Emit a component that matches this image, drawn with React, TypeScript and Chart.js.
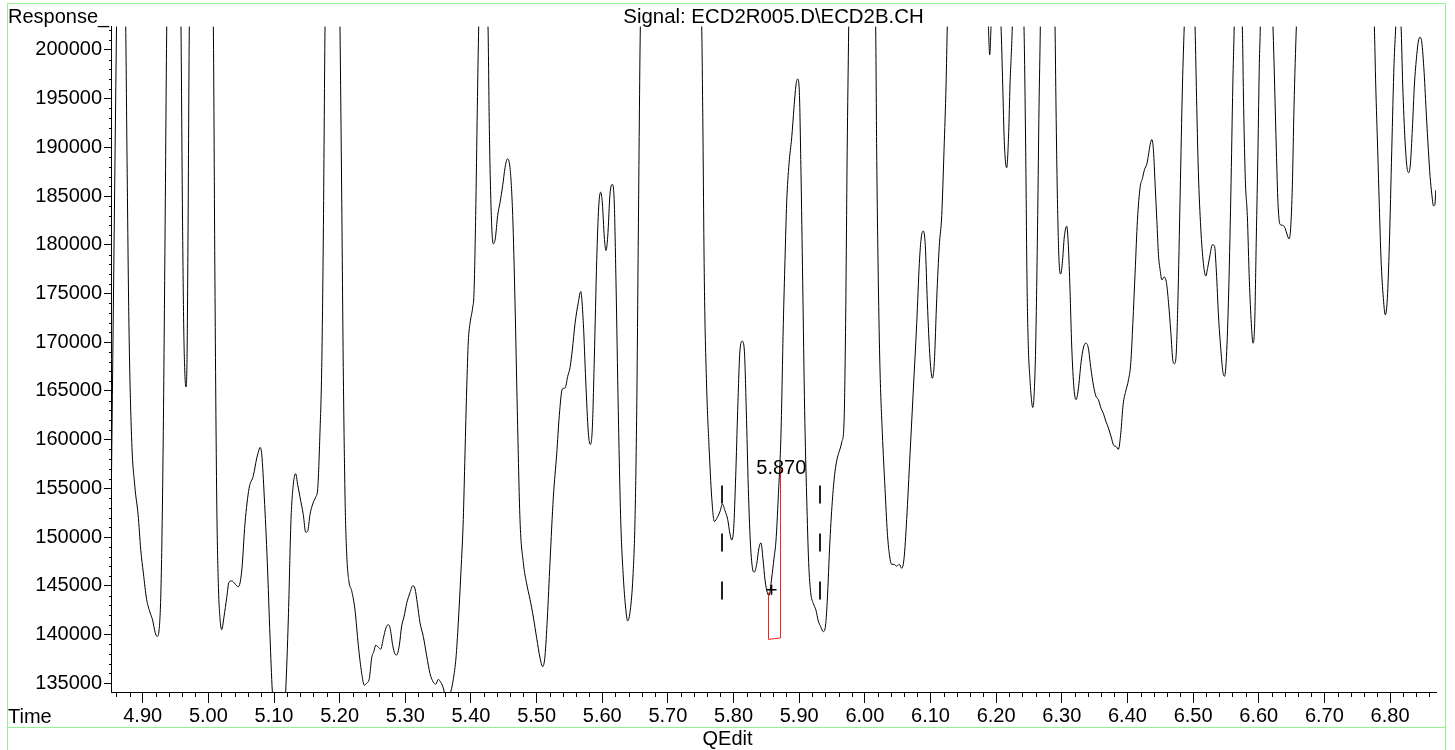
import React, { useEffect, useRef } from 'react';
import { Chart, registerables } from 'chart.js';

Chart.register(...registerables);

// ---- data (retention time in minutes, detector response) ----
const times = [
  4.8517, 4.8601, 4.865, 4.8741, 4.876, 4.879, 4.883, 4.888, 4.893, 4.897, 4.901, 4.906, 4.911, 4.915, 4.919, 4.922, 4.925, 4.928, 4.931, 4.934, 4.9366,
  4.945, 4.9583, 4.9603, 4.9624, 4.9644, 4.966, 4.9675, 4.969, 4.971, 4.99, 5.0076, 5.01, 5.0127, 5.0152, 5.0178, 5.0203, 5.0238, 5.028, 5.0315, 5.0356,
  5.0406, 5.0456, 5.0508, 5.0558, 5.062, 5.0685, 5.0737, 5.0761, 5.0787, 5.0813, 5.0852, 5.0898, 5.0939, 5.0974, 5.1076, 5.1178, 5.1218, 5.1259, 5.1294,
  5.133, 5.136, 5.1396, 5.1446, 5.1483, 5.1513, 5.1548, 5.159, 5.1635, 5.1666, 5.17, 5.1727, 5.1751, 5.1777, 5.189, 5.2005, 5.2031, 5.2055, 5.2082, 5.2107,
  5.2142, 5.2183, 5.2234, 5.2284, 5.2336, 5.2376, 5.2412, 5.2452, 5.2488, 5.2523, 5.2549, 5.2589, 5.2625, 5.2665, 5.2706, 5.2741, 5.2767, 5.2808, 5.2843,
  5.2869, 5.2909, 5.2945, 5.298, 5.3021, 5.3072, 5.3113, 5.3148, 5.3183, 5.3224, 5.3274, 5.3326, 5.3376, 5.3427, 5.3463, 5.3503, 5.3539, 5.357, 5.3594,
  5.3645, 5.3696, 5.3731, 5.3772, 5.3807, 5.3848, 5.3883, 5.3909, 5.3935, 5.396, 5.3985, 5.4027, 5.4046, 5.4072, 5.4097, 5.4118, 5.4165, 5.426, 5.428,
  5.431, 5.434, 5.437, 5.4407, 5.4442, 5.4484, 5.4519, 5.4554, 5.4595, 5.4636, 5.4671, 5.4706, 5.4747, 5.4797, 5.4849, 5.49, 5.495, 5.5002, 5.5052, 5.5093,
  5.5128, 5.5163, 5.5204, 5.5255, 5.5306, 5.5346, 5.5392, 5.5433, 5.5474, 5.5509, 5.5544, 5.5585, 5.5636, 5.5672, 5.5712, 5.5748, 5.5788, 5.5818, 5.5849,
  5.5879, 5.5916, 5.5946, 5.5976, 5.6001, 5.6031, 5.6057, 5.6083, 5.6118, 5.6153, 5.6183, 5.6209, 5.6244, 5.6281, 5.632, 5.6357, 5.6387, 5.6427, 5.6468,
  5.6499, 5.6525, 5.6549, 5.658, 5.7, 5.7515, 5.753, 5.7555, 5.7591, 5.7626, 5.7667, 5.7707, 5.7758, 5.7798, 5.7829, 5.787, 5.7911, 5.7946, 5.7972, 5.8002,
  5.8033, 5.8063, 5.8098, 5.8133, 5.8164, 5.8194, 5.8225, 5.8255, 5.8286, 5.8316, 5.8352, 5.8387, 5.8418, 5.8448, 5.8479, 5.8514, 5.854, 5.8581, 5.8616,
  5.8646, 5.8681, 5.8723, 5.8758, 5.8784, 5.8809, 5.8845, 5.8886, 5.8921, 5.8951, 5.8977, 5.9001, 5.9027, 5.9053, 5.9083, 5.9114, 5.9144, 5.9175, 5.9214,
  5.9255, 5.929, 5.9327, 5.9366, 5.9397, 5.9427, 5.9468, 5.9509, 5.9545, 5.958, 5.962, 5.9651, 5.9682, 5.9707, 5.9731, 5.9754, 5.988, 6.0165, 6.018, 6.0205,
  6.023, 6.0266, 6.0307, 6.0342, 6.0372, 6.0409, 6.0445, 6.0485, 6.0525, 6.0561, 6.0597, 6.0637, 6.0688, 6.0739, 6.079, 6.083, 6.086, 6.0891, 6.0921,
  6.0952, 6.0993, 6.1028, 6.1058, 6.1095, 6.1134, 6.1171, 6.1206, 6.1237, 6.1256, 6.155, 6.1882, 6.1902, 6.1922, 6.196, 6.2074, 6.21, 6.2124, 6.216, 6.2191,
  6.2211, 6.2246, 6.23, 6.2424, 6.245, 6.247, 6.249, 6.2516, 6.2541, 6.2557, 6.2576, 6.2602, 6.2633, 6.2653, 6.2673, 6.275, 6.2897, 6.2912, 6.2932, 6.2957,
  6.2983, 6.3008, 6.3038, 6.3075, 6.31, 6.3125, 6.3151, 6.3186, 6.3217, 6.3252, 6.3293, 6.3328, 6.3365, 6.3404, 6.3441, 6.3481, 6.3517, 6.3557, 6.3598,
  6.3633, 6.367, 6.371, 6.3751, 6.3792, 6.3827, 6.3862, 6.3899, 6.3934, 6.3975, 6.4015, 6.4051, 6.4082, 6.4117, 6.4152, 6.4193, 6.4228, 6.4259, 6.4296,
  6.432, 6.4346, 6.4372, 6.4396, 6.4422, 6.4448, 6.4472, 6.4498, 6.4524, 6.4559, 6.4594, 6.4625, 6.4661, 6.4692, 6.4716, 6.4742, 6.4768, 6.4803, 6.4838,
  6.4865, 6.495, 6.503, 6.5056, 6.508, 6.5117, 6.5157, 6.5193, 6.5224, 6.5259, 6.5294, 6.5325, 6.5355, 6.5386, 6.5423, 6.5453, 6.5477, 6.5503, 6.5538,
  6.5575, 6.5605, 6.5626, 6.566, 6.575, 6.577, 6.5796, 6.5826, 6.5857, 6.5887, 6.5912, 6.5938, 6.5963, 6.5988, 6.6009, 6.6024, 6.608, 6.6217, 6.6242,
  6.6268, 6.6293, 6.6323, 6.6364, 6.6395, 6.6425, 6.6461, 6.6486, 6.6512, 6.6537, 6.6573, 6.72, 6.7761, 6.7782, 6.7812, 6.7837, 6.7863, 6.7898, 6.7928,
  6.7959, 6.7989, 6.8026, 6.8061, 6.8087, 6.811, 6.8168, 6.8193, 6.8229, 6.8259, 6.8285, 6.831, 6.834, 6.8371, 6.8407, 6.8432, 6.8458, 6.8483, 6.8519,
  6.8554, 6.8584, 6.861, 6.8636, 6.8661, 6.8682, 6.8697,
];

const responses = [
  151800, 202400, 230000, 202400, 189700, 171900, 160300, 155200, 152300, 148700, 146300, 143600, 142300, 141500, 140200, 139800, 140500, 145200, 158500, 180800, 202400,
  240000, 202400, 185200, 171900, 166500, 165400, 168300, 180800, 202400, 250000, 202400, 176300, 154100, 145200, 141600, 140500, 141800, 143800, 145400, 145500,
  145200, 144900, 146500, 151400, 155000, 156300, 158100, 158700, 159200, 158500, 154100, 147400, 139800, 134200, 125000, 134200, 141600, 151800, 155400,
  156500, 155400, 154100, 152300, 150500, 150600, 152300, 153400, 154100, 155000, 160700, 167400, 180800, 202400, 260000, 202400, 185200, 167400, 154100, 148300,
  145400, 144500, 142500, 138900, 136000, 134800, 135000, 135500, 137600, 138300, 138900, 138700, 138500, 139600, 140700, 141000, 140700, 138900, 138000,
  137900, 138900, 140900, 141800, 143200, 144300, 145000, 144700, 143200, 141200, 139800, 137800, 136000, 135100, 134900, 135400, 135100, 134700, 134100,
  133300, 134200, 135400, 137600, 141200, 146500, 151800, 158500, 165200, 170100, 171900, 173600, 175000, 183000, 194100, 202400, 215000, 202400, 191900,
  183000, 180100, 180600, 183000, 184300, 186100, 187900, 188800, 187900, 183000, 174100, 163000, 151800, 147400, 145200, 143600, 141800, 139600, 137600, 136700,
  137800, 141600, 147400, 154100, 158500, 162500, 165200, 165300, 166500, 167400, 169200, 171900, 174100, 175200, 171900, 166100, 160700, 159500, 161200,
  168300, 178500, 183900, 185400, 184300, 180800, 179400, 180800, 185200, 186200, 184300, 176300, 163000, 151800, 146000, 142700, 141400, 142500, 146000,
  151800, 163000, 180800, 202400, 300000, 202400, 194100, 176300, 165200, 159400, 154100, 151600, 152100, 152700, 153400, 152700, 151800, 150300, 149700, 150900,
  156300, 163000, 169200, 170100, 169200, 163000, 155000, 149600, 146900, 146400, 147200, 148900, 149400, 147800, 145600, 144300, 144000, 145800, 147800,
  149600, 154100, 160700, 171900, 178500, 184300, 188300, 191000, 194100, 196400, 197000, 195900, 187500, 176300, 163000, 154100, 147400, 144300, 143200,
  142500, 141400, 140800, 140300, 140700, 143400, 149600, 154100, 156700, 158100, 159000, 159800, 161600, 171900, 189700, 202400, 280000, 202400, 189700, 176300,
  167400, 160700, 155000, 150500, 148300, 147200, 147200, 147000, 147200, 146800, 147800, 151800, 158500, 165200, 171900, 178100, 180800, 181400, 179900,
  174100, 168300, 166300, 167900, 174500, 179900, 183000, 189700, 196400, 202400, 260000, 202400, 199500, 202400, 210000, 202400, 196400, 190600, 187900, 191500,
  196400, 202400, 220000, 202400, 189700, 176300, 169600, 166100, 163900, 163300, 164300, 169600, 183000, 194100, 202400, 250000, 202400, 194100, 185200, 178500,
  177000, 178100, 180800, 181900, 179900, 175400, 169600, 165200, 164100, 165200, 167900, 169400, 169900, 169400, 167400, 165600, 164500, 164100, 163200,
  162700, 161900, 161200, 160300, 159400, 159300, 159000, 160700, 163600, 165000, 166100, 167900, 171900, 177200, 182500, 185900, 186800, 187700, 188300,
  189200, 190300, 190800, 189700, 186100, 182500, 179000, 177400, 176400, 176700, 176100, 174100, 171000, 168100, 167800, 168700, 174100, 185200, 196400,
  202400, 220000, 202400, 194100, 187500, 181700, 178100, 176800, 177700, 179000, 180000, 179900, 177200, 172800, 169200, 167000, 166500, 167900, 174100,
  185200, 196400, 202400, 215000, 202400, 194100, 186600, 183000, 176300, 171900, 169900, 171900, 180800, 189700, 198600, 202400, 230000, 202400, 196400,
  189700, 184300, 182100, 182000, 181800, 181200, 180600, 181700, 186100, 194100, 202400, 300000, 202400, 196400, 189700, 183900, 178500, 174500, 172800,
  174500, 179900, 189700, 198600, 202400, 206000, 202400, 196400, 190600, 187900, 187400, 188300, 191900, 196400, 199500, 200900, 201300, 200800, 197700,
  193200, 189700, 187000, 185200, 184000, 184100, 185600,
];

// ---- axes ----
const xRange = [4.8517, 6.87];
const yRange = [134100, 202400];
const xTickValues = [4.9, 5.0, 5.1, 5.2, 5.3, 5.4, 5.5, 5.6, 5.7, 5.8, 5.9, 6.0, 6.1, 6.2, 6.3, 6.4, 6.5, 6.6, 6.7, 6.8];
const yTickValues = [135000, 140000, 145000, 150000, 155000, 160000, 165000, 170000, 175000, 180000, 185000, 190000, 195000, 200000];
const minorSteps = [0.02, 1000]; // x minor, y minor

// ---- integration annotations ----
const dashTimes = [5.7824, 5.932];
const dashValues = [155300, 143600];
const boxTimes = [5.8529, 5.8529, 5.8708, 5.8708];
const boxValues = [144300, 139500, 139650, 157100];
const crossPoint = [5.8578, 144590];
const peakLabelText = '5.870';
const peakLabelPoint = [5.8728, 156450];

// ---- texts ----
const titleText = 'Signal: ECD2R005.D\\ECD2B.CH';
const yTitle = 'Response_';
const xTitle = 'Time';
const footerText = 'QEdit';

const FONT = '"Liberation Sans", Arial, sans-serif';
const W = 1455;
const H = 750;

const overlayPlugin = {
  id: 'overlay',
  afterDraw(chart: any) {
    const ctx = chart.ctx;
    const xs = chart.scales.x;
    const ys = chart.scales.y;
    const area = chart.chartArea;
    ctx.save();

    // minor ticks on x
    ctx.strokeStyle = '#000';
    ctx.lineWidth = 1;
    ctx.beginPath();
    const xk0 = Math.ceil(xRange[0] / minorSteps[0] - 1e-6);
    const xk1 = Math.floor(xRange[1] / minorSteps[0] + 1e-6);
    for (let k = xk0; k <= xk1; k++) {
      if (k % 5 === 0) continue;
      const px = Math.round(xs.getPixelForValue(k * minorSteps[0])) + 0.5;
      ctx.moveTo(px, area.bottom);
      ctx.lineTo(px, area.bottom + 5);
    }
    // minor ticks on y
    const yk0 = Math.ceil(yRange[0] / minorSteps[1]);
    const yk1 = Math.floor(yRange[1] / minorSteps[1]);
    for (let k = yk0; k <= yk1; k++) {
      if (k % 5 === 0) continue;
      const py = Math.round(ys.getPixelForValue(k * minorSteps[1])) + 0.5;
      ctx.moveTo(area.left - 2, py);
      ctx.lineTo(area.left, py);
    }
    ctx.stroke();

    // dashed integration limits
    ctx.save();
    ctx.lineWidth = 2;
    ctx.setLineDash([18, 30]);
    ctx.strokeStyle = '#222';
    dashTimes.forEach((t) => {
      const px = Math.round(xs.getPixelForValue(t));
      ctx.beginPath();
      ctx.moveTo(px, ys.getPixelForValue(dashValues[0]));
      ctx.lineTo(px, ys.getPixelForValue(dashValues[1]));
      ctx.stroke();
    });
    ctx.restore();

    // red baseline box
    ctx.strokeStyle = 'rgb(255,30,30)';
    ctx.lineWidth = 1;
    ctx.beginPath();
    boxTimes.forEach((t, i) => {
      const px = Math.round(xs.getPixelForValue(t)) + 0.5;
      const py = ys.getPixelForValue(boxValues[i]);
      if (i === 0) ctx.moveTo(px, py);
      else ctx.lineTo(px, py);
    });
    ctx.stroke();

    // cross
    const cx = xs.getPixelForValue(crossPoint[0]);
    const cy = ys.getPixelForValue(crossPoint[1]);
    ctx.strokeStyle = '#000';
    ctx.lineWidth = 1.6;
    ctx.beginPath();
    ctx.moveTo(cx - 5, cy);
    ctx.lineTo(cx + 5, cy);
    ctx.moveTo(cx, cy - 5);
    ctx.lineTo(cx, cy + 5);
    ctx.stroke();

    // peak label
    ctx.fillStyle = '#000';
    ctx.font = `20px ${FONT}`;
    ctx.textAlign = 'center';
    ctx.textBaseline = 'alphabetic';
    ctx.fillText(peakLabelText, xs.getPixelForValue(peakLabelPoint[0]), ys.getPixelForValue(peakLabelPoint[1]));

    // texts
    ctx.textAlign = 'left';
    ctx.fillText(yTitle, 8, 22.5);
    ctx.fillText(xTitle, 8, 723);
    ctx.textAlign = 'center';
    ctx.font = `20.4px ${FONT}`;
    ctx.fillText(titleText, (area.left + area.right) / 2, 22.5);
    ctx.font = `20px ${FONT}`;
    ctx.fillText(footerText, W / 2, 745);

    // green frame
    ctx.strokeStyle = 'rgb(150,240,150)';
    ctx.lineWidth = 1;
    ctx.beginPath();
    ctx.moveTo(7.5, H);
    ctx.lineTo(7.5, 3.5);
    ctx.lineTo(1445.5, 3.5);
    ctx.lineTo(1445.5, H);
    ctx.moveTo(7.5, 727.5);
    ctx.lineTo(1445.5, 727.5);
    ctx.stroke();

    ctx.restore();
  },
};

export default function App() {
  const canvasRef = useRef<HTMLCanvasElement | null>(null);

  useEffect(() => {
    if (!canvasRef.current) return;
    Chart.defaults.font.family = FONT;
    const points = times.map((t, i) => ({ x: t, y: responses[i] }));
    const chart = new Chart(canvasRef.current, {
      type: 'line',
      data: {
        datasets: [
          {
            data: points,
            borderColor: '#000',
            borderWidth: 1,
            pointRadius: 0,
            fill: false,
            cubicInterpolationMode: 'monotone',
          },
        ],
      },
      options: {
        responsive: false,
        animation: false,
        events: [],
        layout: { padding: { top: 26.5, right: 19, bottom: 0, left: 0 } },
        plugins: { legend: { display: false }, tooltip: { enabled: false }, title: { display: false } },
        scales: {
          x: {
            type: 'linear',
            min: xRange[0],
            max: xRange[1],
            afterBuildTicks: (s: any) => {
              s.ticks = xTickValues.map((v) => ({ value: v }));
            },
            afterFit: (s: any) => {
              s.height = 58;
            },
            border: { display: true, color: '#000', width: 1 },
            grid: { display: true, drawOnChartArea: false, drawTicks: true, tickLength: 11, color: '#000', lineWidth: 1 },
            ticks: {
              autoSkip: false,
              maxRotation: 0,
              minRotation: 0,
              padding: 1,
              color: '#000',
              font: { size: 20, family: FONT },
              callback: (v: any) => Number(v).toFixed(2),
            },
          },
          y: {
            type: 'linear',
            min: yRange[0],
            max: yRange[1],
            afterBuildTicks: (s: any) => {
              s.ticks = yTickValues.map((v) => ({ value: v }));
            },
            afterFit: (s: any) => {
              s.width = 111;
            },
            border: { display: true, color: '#000', width: 1 },
            grid: { display: true, drawOnChartArea: false, drawTicks: true, tickLength: 7, color: '#000', lineWidth: 1 },
            ticks: {
              autoSkip: false,
              padding: 2,
              color: '#000',
              font: { size: 20, family: FONT },
              callback: (v: any) => String(Math.round(Number(v))),
            },
          },
        },
      },
      plugins: [overlayPlugin],
    } as any);
    return () => chart.destroy();
  }, []);

  return (
    <div style={{ position: 'absolute', left: 0, top: 0, width: W, height: H, background: '#fff' }}>
      <canvas ref={canvasRef} width={W} height={H} style={{ display: 'block', width: W, height: H }} />
    </div>
  );
}
